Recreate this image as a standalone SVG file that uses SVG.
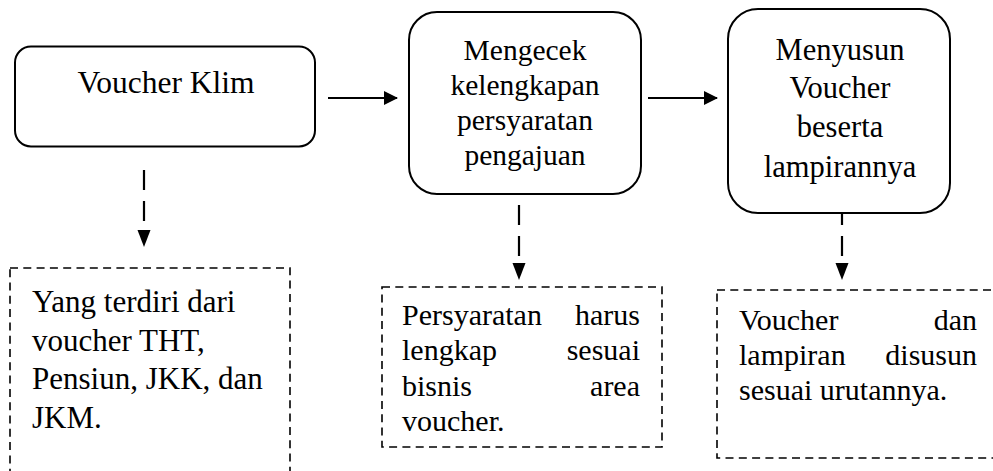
<svg xmlns="http://www.w3.org/2000/svg" width="993" height="471" viewBox="0 0 993 471">
<defs>
<marker id="ah" markerWidth="14" markerHeight="14" refX="13" refY="7" orient="auto" markerUnits="userSpaceOnUse">
<path d="M0,0 L14,7 L0,14 Z" fill="#000"/>
</marker>
</defs>
<rect width="993" height="471" fill="#fff"/>
<g id="connectors" stroke="#000" fill="none">
<line stroke-width="2" x1="328" y1="98" x2="397" y2="98" marker-end="url(#ah)"/>
<line stroke-width="2" x1="648" y1="98" x2="717" y2="98" marker-end="url(#ah)"/>
<g stroke-width="2.2" stroke-dasharray="20 11">
<line x1="144" y1="170" x2="144" y2="230"/>
<line x1="519" y1="205" x2="519" y2="263"/>
<line x1="842" y1="205" x2="842" y2="263"/>
</g>
<g fill="#000" stroke="none">
<path d="M137.5,230 L150.5,230 L144,247 Z"/>
<path d="M512.5,263 L525.5,263 L519,280 Z"/>
<path d="M835.5,263 L848.5,263 L842,280 Z"/>
</g>
</g>
<g id="n1">
<rect x="15" y="46.5" width="300" height="100" rx="16" fill="#fff" stroke="#000" stroke-width="2"/>
<text x="166" y="93" text-anchor="middle" font-family="Times New Roman" font-size="31.5">Voucher Klim</text>
</g>
<g id="n2">
<rect x="409" y="12" width="232" height="182" rx="28" fill="#fff" stroke="#000" stroke-width="2"/>
<text x="525" y="60" text-anchor="middle" font-family="Times New Roman" font-size="29.5">Mengecek</text>
<text x="525" y="95" text-anchor="middle" font-family="Times New Roman" font-size="29.5">kelengkapan</text>
<text x="525" y="130" text-anchor="middle" font-family="Times New Roman" font-size="29.5">persyaratan</text>
<text x="525" y="165" text-anchor="middle" font-family="Times New Roman" font-size="29.5">pengajuan</text>
</g>
<g id="n3">
<rect x="728" y="9" width="222" height="204" rx="30" fill="#fff" stroke="#000" stroke-width="2"/>
<text x="840" y="60" text-anchor="middle" font-family="Times New Roman" font-size="30.5">Menyusun</text>
<text x="840" y="98" text-anchor="middle" font-family="Times New Roman" font-size="30.5">Voucher</text>
<text x="840" y="137" text-anchor="middle" font-family="Times New Roman" font-size="30.5">beserta</text>
<text x="840" y="177" text-anchor="middle" font-family="Times New Roman" font-size="30.5">lampirannya</text>
</g>
<g id="n4">
<rect x="10" y="268" width="280" height="230" fill="none" stroke="#000" stroke-width="1.6" stroke-dasharray="8 5.3"/>
<text x="32" y="312" font-family="Times New Roman" font-size="31">Yang terdiri dari</text>
<text x="32" y="351" font-family="Times New Roman" font-size="31">voucher THT,</text>
<text x="32" y="389" font-family="Times New Roman" font-size="31">Pensiun, JKK, dan</text>
<text x="32" y="428" font-family="Times New Roman" font-size="31">JKM.</text>
</g>
<g id="n5">
<rect x="382" y="287" width="280" height="160" fill="none" stroke="#000" stroke-width="1.6" stroke-dasharray="8 5.3"/>
<text x="402" y="325" font-family="Times New Roman" font-size="30">Persyaratan</text>
<text x="640" y="325" text-anchor="end" font-family="Times New Roman" font-size="30">harus</text>
<text x="402" y="360" font-family="Times New Roman" font-size="30">lengkap</text>
<text x="640" y="360" text-anchor="end" font-family="Times New Roman" font-size="30">sesuai</text>
<text x="402" y="396" font-family="Times New Roman" font-size="30">bisnis</text>
<text x="640" y="396" text-anchor="end" font-family="Times New Roman" font-size="30">area</text>
<text x="402" y="431" font-family="Times New Roman" font-size="30">voucher.</text>
</g>
<g id="n6">
<rect x="717" y="290" width="290" height="168" fill="none" stroke="#000" stroke-width="1.6" stroke-dasharray="8 5.3"/>
<text x="739" y="330" font-family="Times New Roman" font-size="30">Voucher</text>
<text x="977" y="330" text-anchor="end" font-family="Times New Roman" font-size="30">dan</text>
<text x="739" y="365" font-family="Times New Roman" font-size="30">lampiran</text>
<text x="977" y="365" text-anchor="end" font-family="Times New Roman" font-size="30">disusun</text>
<text x="739" y="400" font-family="Times New Roman" font-size="30">sesuai urutannya.</text>
</g>
</svg>
